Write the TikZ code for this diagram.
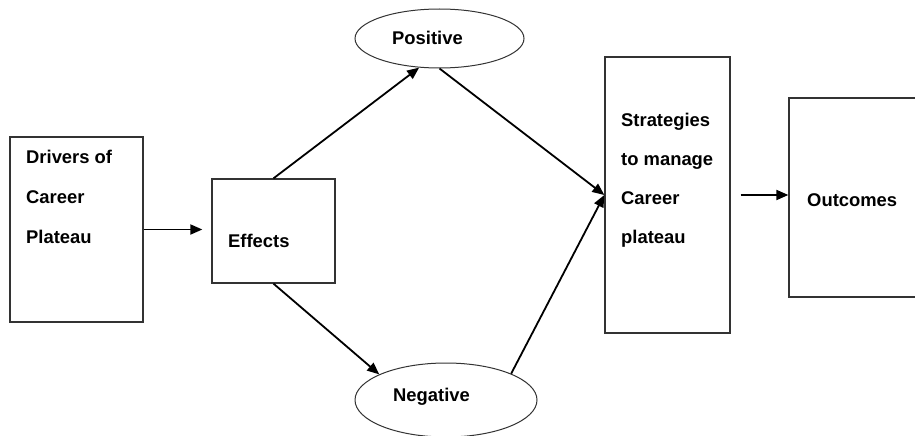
\documentclass[tikz,border=0pt]{standalone}
\usepackage{fontspec}
\setmainfont{Liberation Sans}
\usetikzlibrary{arrows.meta,shapes.geometric}
\begin{document}
\begin{tikzpicture}[x=1pt,y=-1pt,
  box/.style={draw=black!80,line width=1.3pt,rectangle,inner sep=0pt},
  oval/.style={draw=black!80,line width=1pt,ellipse,inner sep=0pt},
  txt/.style={anchor=base west,inner sep=0pt,font=\fontsize{18.4}{22}\selectfont\bfseries},
  arr/.style={line width=1.8pt,-{Triangle[length=12pt,width=10pt]}}]
\useasboundingbox (0,0) rectangle (915,436);
\fill[white] (0,0) rectangle (915,436);
% boxes and ovals
\node[box,minimum width=133pt,minimum height=185pt] (drivers) at (76.5,229.5) {};
\node[box,minimum width=123pt,minimum height=104pt] (effects) at (273.5,231) {};
\node[box,minimum width=125pt,minimum height=276pt] (strat) at (667.5,195) {};
\node[box,minimum width=141pt,minimum height=199pt] (outc) at (859.5,197.5) {};
\node[oval,minimum width=169pt,minimum height=59pt] (pos) at (439.5,38.5) {};
\node[oval,minimum width=182pt,minimum height=74pt] (neg) at (446,400) {};
% texts
\node[txt] (d1) at (26,163) {Drivers of};
\node[txt] (d2) at (26,203) {Career};
\node[txt] (d3) at (26,243) {Plateau};
\node[txt] (e1) at (228,247) {Effects};
\node[txt] (p1) at (392,45) {Positive};
\node[txt] (n1) at (393,401) {Negative};
\node[txt] (s1) at (621,126) {Strategies};
\node[txt] (s2) at (621,165) {to manage};
\node[txt] (s3) at (621,204) {Career};
\node[txt] (s4) at (621,243) {plateau};
\node[txt] (o1) at (807,206) {Outcomes};
% connectors
\draw[arr,shorten >=9pt] (drivers.east) -- (drivers.east -| effects.west);
\draw[arr] (effects.north) -- (pos.235);
\draw[arr] (effects.south) -- (neg.159);
\draw[arr] (pos.south) -- (strat.west);
\draw[arr] (neg.22) -- (strat.west);
\draw[arr,shorten <=10pt] (strat.east) -- (strat.east -| outc.west);
\end{tikzpicture}
\end{document}
